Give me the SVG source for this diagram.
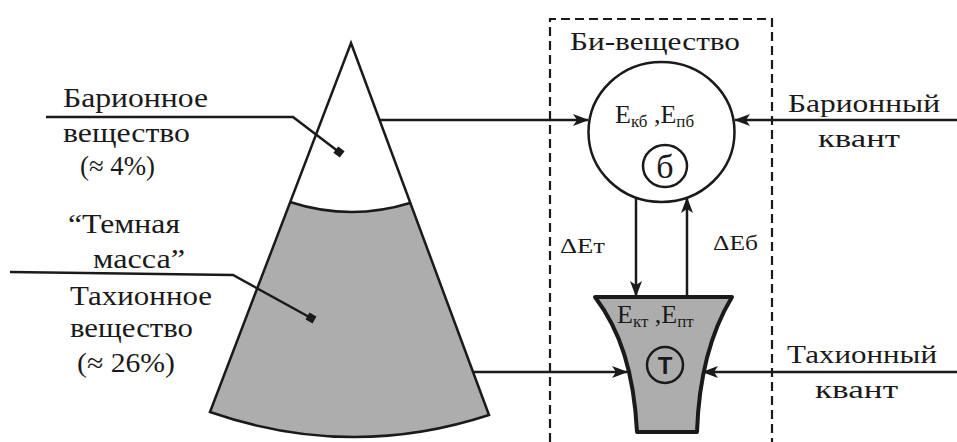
<svg xmlns="http://www.w3.org/2000/svg" width="957" height="442" viewBox="0 0 957 442">
<style>
text{font-family:"Liberation Serif","Times New Roman",serif;fill:#1a1a1a}
.lbl{font-size:27px}
.rl{font-size:26px}
.sub{font-size:17px}
.ln{stroke:#1a1a1a;stroke-width:2.5;fill:none}
.dash{stroke:#1a1a1a;stroke-width:2.2;fill:none;stroke-dasharray:9 5}
</style>
<defs>
<marker id="ah" viewBox="0 0 16 12" refX="15" refY="6" markerWidth="16" markerHeight="12" markerUnits="userSpaceOnUse" orient="auto">
<path d="M0,0 L16,6 L0,12 L4,6 Z" fill="#1a1a1a"/>
</marker>
</defs>

<g id="cone">
<path d="M290,202 Q350,221.5 410,203 L489,415 Q350,460.5 210,412 Z" fill="#adadad"/>
<path d="M351,43 L489,415 Q350,460.5 210,412 Z" class="ln"/>
<path d="M290,202 Q350,221.5 410,203" class="ln"/>
</g>

<g id="baryon-label">
<text class="lbl" x="63" y="107" textLength="145" lengthAdjust="spacingAndGlyphs">Барионное</text>
<text class="lbl" x="63" y="142" textLength="127" lengthAdjust="spacingAndGlyphs">вещество</text>
<text class="lbl" x="80" y="175" textLength="75" lengthAdjust="spacingAndGlyphs">(≈ 4%)</text>
<path d="M46,117 L293,117 L339,152" class="ln" stroke-width="2.2"/>
<rect x="335" y="148" width="8" height="8" fill="#1a1a1a" transform="rotate(37 339 152)"/>
</g>

<g id="tachyon-label">
<text class="lbl" x="68" y="233" textLength="112" lengthAdjust="spacingAndGlyphs">“Темная</text>
<text class="lbl" x="93" y="268" textLength="92" lengthAdjust="spacingAndGlyphs">масса”</text>
<text class="lbl" x="70" y="305" textLength="142" lengthAdjust="spacingAndGlyphs">Тахионное</text>
<text class="lbl" x="70" y="337" textLength="123" lengthAdjust="spacingAndGlyphs">вещество</text>
<text class="lbl" x="77" y="372" textLength="98" lengthAdjust="spacingAndGlyphs">(≈ 26%)</text>
<path d="M10,272 L233,275 L311,318" class="ln" stroke-width="2.2"/>
<rect x="307" y="314" width="8" height="8" fill="#1a1a1a" transform="rotate(29 311 318)"/>
</g>

<g id="bi-substance">
<path d="M550,442 L550,19 L772,19 L772,442" class="dash"/>
<text class="rl" x="570" y="50" textLength="170" lengthAdjust="spacingAndGlyphs">Би-вещество</text>
</g>

<g id="baryon-node">
<ellipse cx="661.5" cy="132" rx="73" ry="70" class="ln"/>
<text x="615" y="123" font-size="26">E<tspan class="sub" dy="4">кб</tspan><tspan dy="-4"> ,E</tspan><tspan class="sub" dy="4">пб</tspan></text>
<ellipse cx="665" cy="166" rx="22" ry="21" class="ln" stroke-width="2.3"/>
<text x="665" y="178" font-size="34" text-anchor="middle">б</text>
</g>

<g id="tachyon-node">
<path d="M595,297 L732,297 C712,330 699,372 697,432 L637,432 C634,372 620,330 595,297 Z" fill="#adadad" stroke="#1a1a1a" stroke-width="4" stroke-linejoin="round"/>
<text x="617" y="323" font-size="26">E<tspan class="sub" dy="4">кт</tspan><tspan dy="-4"> ,E</tspan><tspan class="sub" dy="4">пт</tspan></text>
<circle cx="665" cy="365" r="18" class="ln"/>
<text x="665" y="374" font-size="24" font-weight="bold" text-anchor="middle" style="font-family:'Liberation Sans',Arial,sans-serif">Т</text>
</g>

<g id="quanta-labels">
<text class="rl" x="788" y="112" textLength="152" lengthAdjust="spacingAndGlyphs">Барионный</text>
<text class="rl" x="818" y="147" textLength="82" lengthAdjust="spacingAndGlyphs">квант</text>
<text class="rl" x="787" y="363" textLength="150" lengthAdjust="spacingAndGlyphs">Тахионный</text>
<text class="rl" x="815" y="398" textLength="83" lengthAdjust="spacingAndGlyphs">квант</text>
<text x="560" y="253" font-size="22" textLength="45" lengthAdjust="spacingAndGlyphs">ΔEт</text>
<text x="713" y="250" font-size="22" textLength="45" lengthAdjust="spacingAndGlyphs">ΔEб</text>
</g>

<g id="connectors">
<line x1="380" y1="120" x2="588" y2="120" class="ln" stroke-width="2.2" marker-end="url(#ah)"/>
<line x1="957" y1="120" x2="735" y2="120" class="ln" stroke-width="3" marker-end="url(#ah)"/>
<line x1="473" y1="372" x2="627" y2="372" class="ln" stroke-width="2.2" marker-end="url(#ah)"/>
<line x1="957" y1="372" x2="703" y2="372" class="ln" stroke-width="3" marker-end="url(#ah)"/>
<line x1="636" y1="198" x2="636" y2="296" class="ln" stroke-width="2.2" marker-end="url(#ah)"/>
<line x1="687" y1="296" x2="687" y2="198" class="ln" stroke-width="2.2" marker-end="url(#ah)"/>
</g>
</svg>
